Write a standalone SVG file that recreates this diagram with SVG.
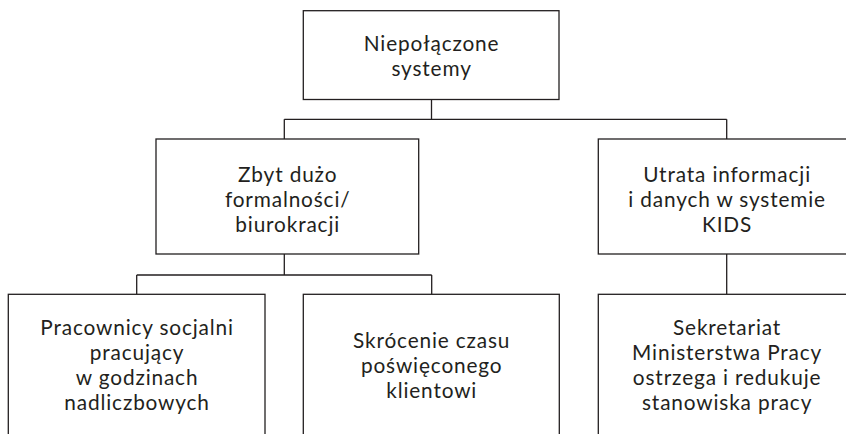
<svg xmlns="http://www.w3.org/2000/svg" width="846" height="434" viewBox="0 0 846 434">
<style>
.box{fill:#fff;stroke:#231f20;stroke-width:1.3}
.c{fill:none;stroke:#231f20;stroke-width:1.3}
text{font-family:Lato,"Open Sans","Liberation Sans",sans-serif;font-size:20.8px;letter-spacing:0.85px;fill:#231f20;text-anchor:middle}
</style>
<rect width="846" height="434" fill="#fff"/>
<g id="connectors">
<path class="c" d="M431.5 99.5V119.3M284.3 119.3H726.7M284.3 119.3V139M726.7 119.3V139"/>
<path class="c" d="M284.3 254V275M136.7 275H431.7M136.7 275V294.3M431.7 275V294.3"/>
<path class="c" d="M726.7 254V294.3"/>
</g>
<g id="n1">
<rect class="box" x="303.3" y="10.7" width="255.7" height="88.8"/>
<text x="431.6" y="51">Niepołączone</text>
<text x="431.6" y="76">systemy</text>
</g>
<g id="n2">
<rect class="box" x="156" y="139" width="262.7" height="115"/>
<text x="287.7" y="182">Zbyt dużo</text>
<text x="287.7" y="207">formalności/</text>
<text x="287.7" y="232">biurokracji</text>
</g>
<g id="n3">
<rect class="box" x="598.3" y="139" width="257" height="115"/>
<text x="727.1" y="182">Utrata informacji</text>
<text x="727.1" y="207">i danych w systemie</text>
<text x="727.1" y="232">KIDS</text>
</g>
<g id="n4">
<rect class="box" x="8.3" y="294.3" width="256.7" height="150"/>
<text x="137.1" y="335">Pracownicy socjalni</text>
<text x="137.1" y="360">pracujący</text>
<text x="137.1" y="385">w godzinach</text>
<text x="137.1" y="410">nadliczbowych</text>
</g>
<g id="n5">
<rect class="box" x="303.3" y="294.3" width="256" height="150"/>
<text x="431.7" y="348">Skrócenie czasu</text>
<text x="431.7" y="373">poświęconego</text>
<text x="431.7" y="398">klientowi</text>
</g>
<g id="n6">
<rect class="box" x="598.3" y="294.3" width="257" height="150"/>
<text x="727.1" y="335">Sekretariat</text>
<text x="727.1" y="360">Ministerstwa Pracy</text>
<text x="727.1" y="385">ostrzega i redukuje</text>
<text x="727.1" y="410">stanowiska pracy</text>
</g>
</svg>
